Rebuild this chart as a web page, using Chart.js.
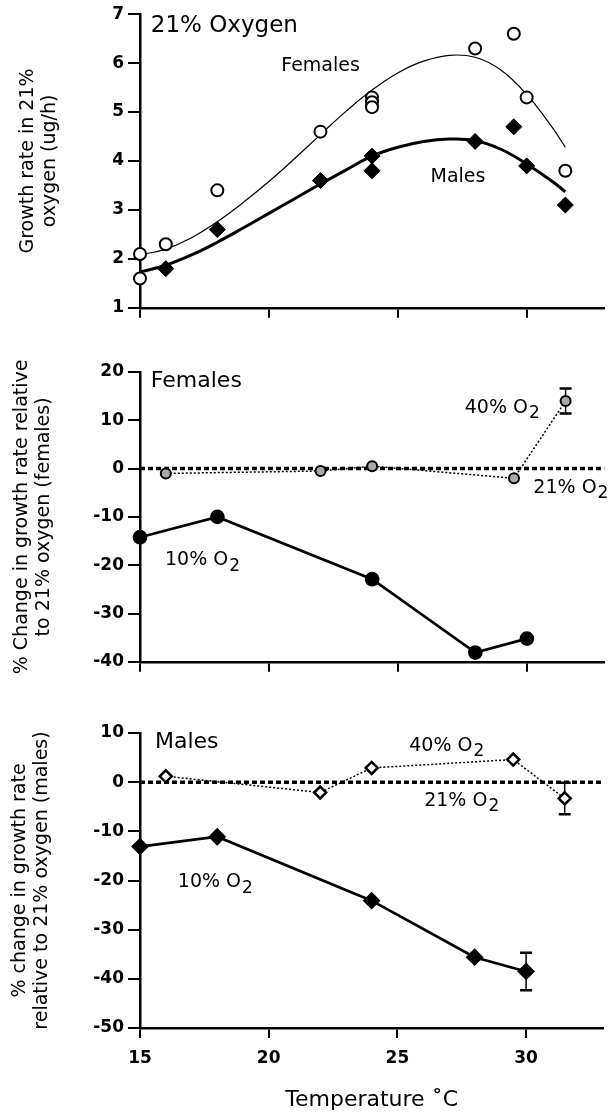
<!DOCTYPE html>
<html><head><meta charset="utf-8">
<script src="https://cdn.jsdelivr.net/npm/chart.js@4.4.1/dist/chart.umd.min.js"></script>
<style>
html,body{margin:0;padding:0;background:#fff;}
body{width:613px;height:1115px;position:relative;overflow:hidden;}
canvas{position:absolute;left:0;}
</style></head><body>
<canvas id="c1" width="613" height="322" style="top:0px"></canvas>
<canvas id="c2" width="613" height="336" style="top:340px"></canvas>
<canvas id="c3" width="613" height="415" style="top:700px"></canvas>
<script>
// ---------- data ----------
const tempRange = [15, 33];
const tempStep = 5;

// Panel 1: growth rate in 21% oxygen
const femaleT    = [15, 15, 16, 18, 22, 24, 24, 24, 28, 29.5, 30, 31.5];
const femaleRate = [2.1, 1.6, 2.3, 3.4, 4.6, 5.3, 5.2, 5.1, 6.3, 6.6, 5.3, 3.8];
const maleT      = [16, 18, 22, 24, 24, 28, 29.5, 30, 31.5];
const maleRate   = [1.8, 2.6, 3.6, 4.1, 3.8, 4.4, 4.7, 3.9, 3.1];
const fitT       = [15, 16, 17, 18, 19, 20, 21, 22, 23, 24, 25, 26, 27, 28, 29, 30, 31, 31.5];
const femaleFit  = [2.08, 2.20, 2.43, 2.76, 3.15, 3.58, 4.05, 4.54, 5.02, 5.45, 5.80, 6.04, 6.16, 6.12, 5.86, 5.36, 4.68, 4.28];
const maleFit    = [1.73, 1.87, 2.08, 2.34, 2.63, 2.93, 3.23, 3.53, 3.82, 4.10, 4.28, 4.40, 4.45, 4.42, 4.24, 3.94, 3.58, 3.37];
const rateRange  = [1, 7, 1];

// Panel 2: females, % change relative to 21% O2
const fem10T   = [15, 18, 24, 28, 30];
const fem10    = [-14.2, -10, -22.9, -38.1, -35.2];
const fem40T   = [16, 22, 24, 29.5, 31.5];
const fem40    = [-1, -0.5, 0.5, -2, 14];
const fem40Err = [0, 0, 0, 0, 2.6];
const femRange = [-40, 20, 10];

// Panel 3: males, % change relative to 21% O2
const male10T    = [15, 18, 24, 28, 30];
const male10     = [-13.1, -11.1, -24.1, -35.6, -38.5];
const male10Err  = [0, 0, 0, 0, 3.8];
const male40T    = [16, 22, 24, 29.5, 31.5];
const male40     = [1.2, -2.1, 2.9, 4.6, -3.3];
const male40Err  = [0, 0, 0, 0, 3.2];
const maleRange  = [-50, 10, 10];

// 21% O2 reference line
const refT = [15, 33];
const refV = [0, 0];

// annotation texts [text, subscript, x, y, size]
const labels1 = [["21% Oxygen", "", 15.42, 6.76, 23], ["Females", "", 20.48, 5.95, 19], ["Males", "", 26.27, 3.67, 19]];
const labels2 = [["Females", "", 15.42, 18.0, 22], ["40% O", "2", 27.59, 12.6, 19], ["21% O", "2", 30.25, -4.0, 19], ["10% O", "2", 15.97, -19.0, 19]];
const labels3 = [["Males", "", 15.58, 8.2, 22], ["40% O", "2", 25.46, 7.36, 19], ["21% O", "2", 26.04, -3.77, 19], ["10% O", "2", 16.47, -20.4, 19]];

// ---------- helpers ----------
const FONT = "'DejaVu Sans', Verdana, sans-serif";
const pts = (xs, ys) => xs.map((x, i) => ({x: x, y: ys[i]}));

const annotPlugin = {
  id: 'annot',
  beforeDatasetsDraw(chart, args, opts) {
    const ctx = chart.ctx, xs = chart.scales.x, ys = chart.scales.y;
    ctx.save();
    ctx.strokeStyle = '#000';
    (opts.errors || []).forEach(e => {
      const [tx, vy, ve] = e;
      tx.forEach((t, i) => {
        if (!ve[i]) return;
        const px = xs.getPixelForValue(t);
        const top = ys.getPixelForValue(vy[i] + ve[i]);
        const bot = ys.getPixelForValue(vy[i] - ve[i]);
        ctx.lineWidth = 1.5;
        ctx.beginPath(); ctx.moveTo(px, top); ctx.lineTo(px, bot); ctx.stroke();
        ctx.lineWidth = 2.5;
        ctx.beginPath(); ctx.moveTo(px - 6, top); ctx.lineTo(px + 6, top);
        ctx.moveTo(px - 6, bot); ctx.lineTo(px + 6, bot); ctx.stroke();
      });
    });
    ctx.restore();
  },
  afterDatasetsDraw(chart, args, opts) {
    const ctx = chart.ctx, xs = chart.scales.x, ys = chart.scales.y;
    ctx.save();
    ctx.fillStyle = '#000';
    ctx.textAlign = 'left';
    ctx.textBaseline = 'middle';
    (opts.labels || []).forEach(l => {
      const [txt, sub, tx, ty, size] = l;
      const px = xs.getPixelForValue(tx), py = ys.getPixelForValue(ty);
      ctx.font = size + "px " + FONT;
      ctx.fillText(txt, px, py);
      if (sub) {
        const w = ctx.measureText(txt).width;
        ctx.font = (size - 2) + "px " + FONT;
        ctx.fillText(sub, px + w + 1, py + 6);
      }
    });
    ctx.restore();
  }
};

function makeChart(id, cfg) {
  new Chart(document.getElementById(id), {
    type: 'scatter',
    data: {datasets: cfg.datasets},
    plugins: [annotPlugin],
    options: {
      responsive: false, animation: false, devicePixelRatio: 1,
      layout: {padding: {top: cfg.padTop, right: 6, left: 0, bottom: 0}},
      plugins: {legend: {display: false}, tooltip: {enabled: false},
        annot: {labels: cfg.labels, errors: cfg.errors}},
      scales: {
        x: {
          type: 'linear', min: tempRange[0], max: tempRange[1],
          afterFit: s => { s.height = cfg.xHeight; },
          ticks: {display: cfg.showX, stepSize: tempStep, includeBounds: false, color: '#000',
            font: {family: FONT, size: 17, weight: 'bold'}, padding: 10},
          grid: {display: true, drawOnChartArea: false, drawTicks: true, tickLength: 10, color: '#000', lineWidth: 2},
          border: {display: true, color: '#000', width: 2.5},
          title: cfg.showX ? {display: true, text: 'Temperature ˚C', color: '#000',
            font: {family: FONT, size: 22, lineHeight: 1.2}, padding: {top: 0, bottom: 2}} : {display: false}
        },
        y: {
          type: 'linear', min: cfg.yr[0], max: cfg.yr[1],
          afterFit: s => { s.width = 140; },
          ticks: {stepSize: cfg.yr[2], color: '#000', font: {family: FONT, size: 17, weight: 'bold'}, padding: 4},
          grid: {display: true, drawOnChartArea: false, drawTicks: true, tickLength: 12, color: '#000', lineWidth: 2},
          border: {display: true, color: '#000', width: 2.5},
          title: {display: true, text: cfg.title, color: '#000',
            font: {family: FONT, size: 19, lineHeight: 1.15}, padding: {top: cfg.titlePad, bottom: 0}}
        }
      }
    }
  });
}

// ---------- panel 1 ----------
makeChart('c1', {
  padTop: 13, xHeight: 12, showX: false, yr: rateRange, titlePad: 17,
  title: ['Growth rate in 21%', 'oxygen (ug/h)'],
  labels: labels1, errors: [],
  datasets: [
    {data: pts(femaleT, femaleRate), showLine: false, pointStyle: 'circle', pointRadius: 6,
      pointBackgroundColor: '#fff', pointBorderColor: '#000', pointBorderWidth: 2, clip: false},
    {data: pts(maleT, maleRate), showLine: false, pointStyle: 'rectRot', pointRadius: 8,
      pointBackgroundColor: '#000', pointBorderColor: '#000', pointBorderWidth: 1, clip: false},
    {data: pts(fitT, femaleFit), showLine: true, borderColor: '#000', borderWidth: 1.2,
      pointRadius: 0, tension: 0.4, clip: false},
    {data: pts(fitT, maleFit), showLine: true, borderColor: '#000', borderWidth: 3,
      pointRadius: 0, tension: 0.4, clip: false}
  ]
});

// ---------- panel 2 ----------
makeChart('c2', {
  padTop: 32, xHeight: 12, showX: false, yr: femRange, titlePad: 11,
  title: ['% Change in growth rate relative', 'to 21% oxygen (females)'],
  labels: labels2, errors: [[fem40T, fem40, fem40Err]],
  datasets: [
    {data: pts(fem40T, fem40), showLine: true, borderColor: '#000', borderWidth: 1.5, borderDash: [2, 2],
      pointStyle: 'circle', pointRadius: 5, pointBackgroundColor: '#aaa', pointBorderColor: '#000', pointBorderWidth: 2, clip: false},
    {data: pts(fem10T, fem10), showLine: true, borderColor: '#000', borderWidth: 2.7,
      pointStyle: 'circle', pointRadius: 6, pointBackgroundColor: '#000', pointBorderColor: '#000', clip: false},
    {data: pts(refT, refV), showLine: true, borderColor: '#000', borderWidth: 3.5, borderDash: [5, 3],
      pointRadius: 0, clip: false}
  ]
});

// ---------- panel 3 ----------
makeChart('c3', {
  padTop: 33, xHeight: 87, showX: true, yr: maleRange, titlePad: 9.5,
  title: ['% change in growth rate', 'relative to 21% oxygen (males)'],
  labels: labels3, errors: [[male40T, male40, male40Err], [male10T, male10, male10Err]],
  datasets: [
    {data: pts(male40T, male40), showLine: true, borderColor: '#000', borderWidth: 1.5, borderDash: [2, 2],
      pointStyle: 'rectRot', pointRadius: 6, pointBackgroundColor: '#fff', pointBorderColor: '#000', pointBorderWidth: 2.5, clip: false},
    {data: pts(male10T, male10), showLine: true, borderColor: '#000', borderWidth: 2.7,
      pointStyle: 'rectRot', pointRadius: 7, pointBackgroundColor: '#000', pointBorderColor: '#000', clip: false},
    {data: pts(refT, refV), showLine: true, borderColor: '#000', borderWidth: 3.5, borderDash: [5, 3],
      pointRadius: 0, clip: false}
  ]
});
</script>
</body></html>
